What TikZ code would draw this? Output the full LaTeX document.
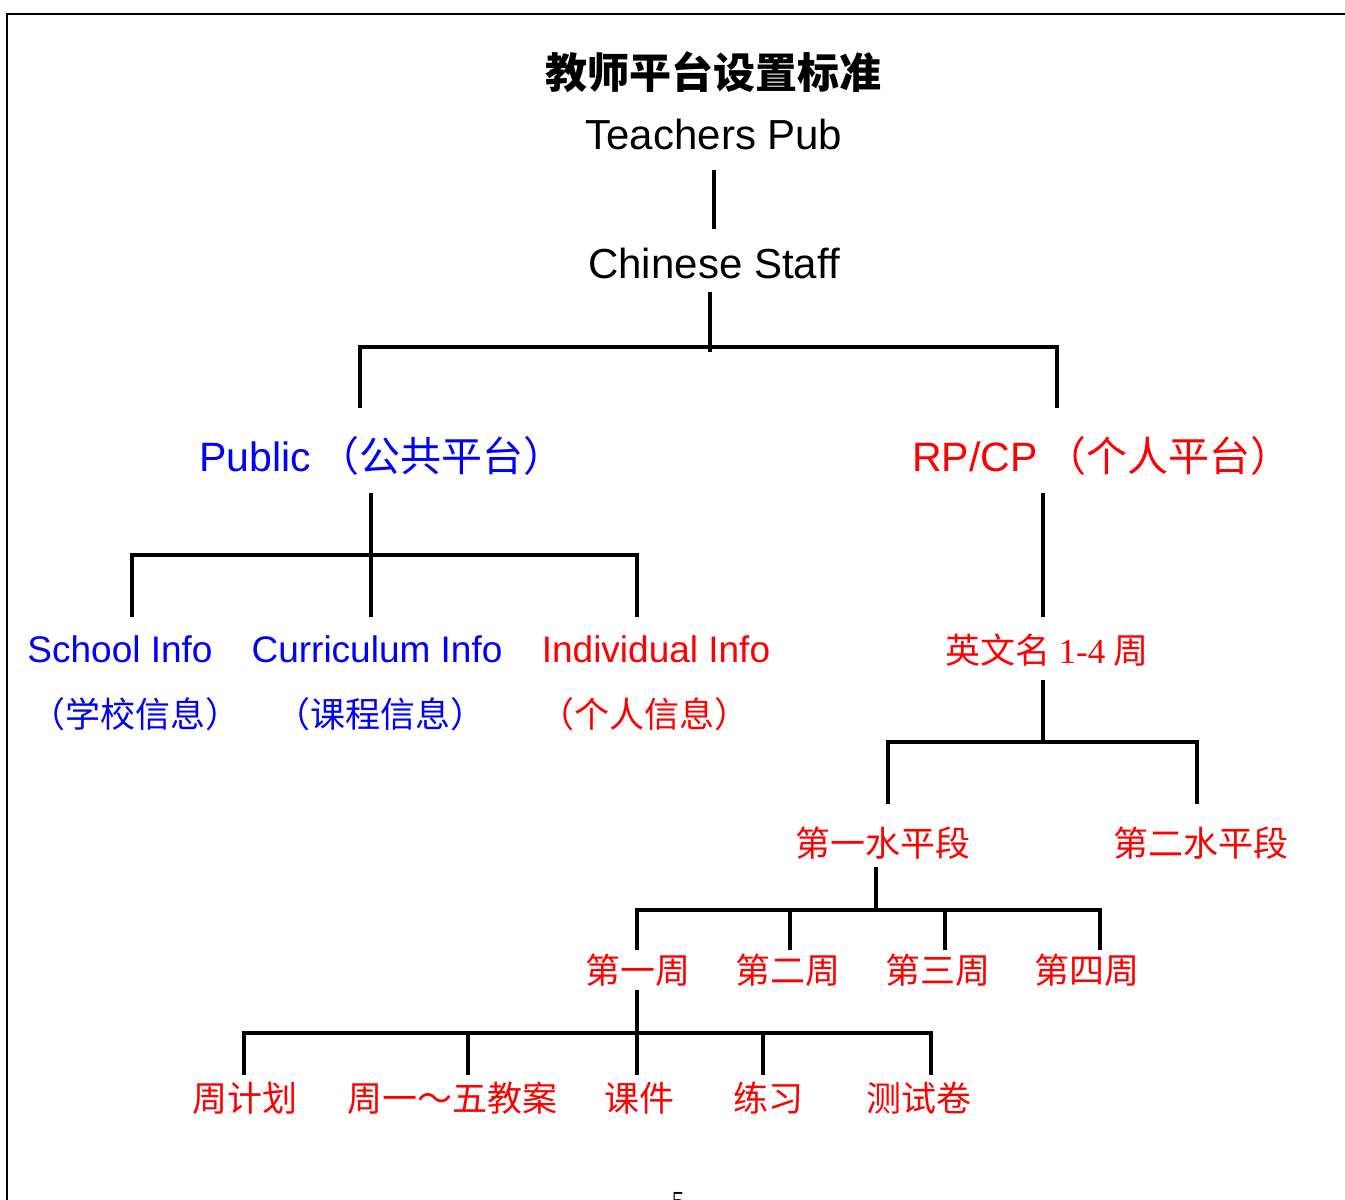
\documentclass[tikz,border=0pt]{standalone}
\usepackage{fontspec}
\setmainfont{Liberation Serif}
\setsansfont{Liberation Sans}
\newfontfamily\cjk{Noto Sans CJK SC}
\usetikzlibrary{calc}
\definecolor{pblue}{RGB}{0,0,255}
\definecolor{pred}{RGB}{255,0,0}
\tikzset{
  tree/.style={line width=2pt},
  lbl/.style={inner sep=0pt, anchor=center},
  big/.style={font=\sffamily\fontsize{21}{25}\selectfont},
  en/.style={font=\sffamily\fontsize{18.5}{22}\selectfont},
  zh/.style={font=\cjk\fontsize{17.5}{21}\selectfont},
}
\begin{document}
\begin{tikzpicture}[x=0.5pt,y=-0.5pt]
\useasboundingbox (0,0) rectangle (1345,1200);
% page frame
\draw[line width=1pt] (7,1200) -- (7,14) -- (1345,14);

% texts
\node[lbl,font=\cjk\bfseries\fontsize{21}{25}\selectfont] (title) at (713,72) {教师平台设置标准};
\node[lbl,big] (tp) at (714,134) {Teachers Pub};
\node[lbl,big] (cs) at (714,263) {Chinese Staff};
\node[lbl,text=pblue] (pub) at (382,456) {{\sffamily\fontsize{20.5}{24}\selectfont Public}\hspace{4pt}{\cjk\fontsize{20.5}{24}\selectfont （公共平台）}};
\node[lbl,text=pred] (rp) at (1102,456) {{\sffamily\fontsize{20.5}{24}\selectfont RP/CP}\hspace{4pt}{\cjk\fontsize{20.5}{24}\selectfont （个人平台）}};

\node[lbl,en,text=pblue] (si) at (120,649) {School Info};
\node[lbl,en,text=pblue] (ci) at (377,649) {Curriculum Info};
\node[lbl,en,text=pred] (ii) at (656,649) {Individual Info};
\node[lbl,zh,text=pblue] (si2) at (136,714) {（学校信息）};
\node[lbl,zh,text=pblue] (ci2) at (380,714) {（课程信息）};
\node[lbl,zh,text=pred] (ii2) at (644,714) {（个人信息）};

\node[lbl,zh,text=pred] (en) at (1047,650) {英文名 {\rmfamily 1-4} 周};
\node[lbl,zh,text=pred] (l1) at (883,843) {第一水平段};
\node[lbl,zh,text=pred] (l2) at (1201,843) {第二水平段};

\node[lbl,zh,text=pred] (w1) at (638,970) {第一周};
\node[lbl,zh,text=pred] (w2) at (788,970) {第二周};
\node[lbl,zh,text=pred] (w3) at (938,970) {第三周};
\node[lbl,zh,text=pred] (w4) at (1087,970) {第四周};

\node[lbl,zh,text=pred] (d1) at (245,1098) {周计划};
\node[lbl,zh,text=pred] (d2) at (452,1098) {周一～五教案};
\node[lbl,zh,text=pred] (d3) at (639,1098) {课件};
\node[lbl,zh,text=pred] (d4) at (768,1098) {练习};
\node[lbl,zh,text=pred] (d5) at (919,1098) {测试卷};

\node[lbl,font=\rmfamily\fontsize{13}{15}\selectfont] (pg) at (678,1201) {5};

% connector coordinates
\coordinate (a1) at (714,170);  \coordinate (a2) at (714,229);
\coordinate (b0) at (710,292);  \coordinate (b1) at (710,352);
\coordinate (j1) at (710,347);
\coordinate (pubT) at (360,408); \coordinate (rpT) at (1057,408);

\coordinate (c0) at (371,493);  \coordinate (j2) at (371,555);
\coordinate (siT) at (132,617); \coordinate (ciT) at (371,617); \coordinate (iiT) at (637,617);

\coordinate (r0) at (1043,493); \coordinate (enT) at (1043,617);
\coordinate (e0) at (1043,680); \coordinate (j3) at (1043,742);
\coordinate (l1T) at (888,804); \coordinate (l2T) at (1197,804);

\coordinate (f0) at (876,867);  \coordinate (j4) at (876,910);
\coordinate (w1T) at (637,950); \coordinate (w2T) at (790,950);
\coordinate (w3T) at (945,950); \coordinate (w4T) at (1100,950);

\coordinate (g0) at (637,990);  \coordinate (j5) at (637,1033);
\coordinate (d1T) at (244,1075); \coordinate (d2T) at (468,1075);
\coordinate (d3T) at (637,1075); \coordinate (d4T) at (763,1075);
\coordinate (d5T) at (931,1075);

% connectors
\draw[tree] (a1) -- (a2);
\draw[tree] (b0) -- (b1);
\draw[tree] (pubT) |- (j1) -| (rpT);

\draw[tree] (c0) -- (ciT);
\draw[tree] (siT) |- (j2) -| (iiT);

\draw[tree] (r0) -- (enT);
\draw[tree] (e0) -- (j3);
\draw[tree] (l1T) |- (j3) -| (l2T);

\draw[tree] (f0) -- (j4);
\draw[tree] (w1T) |- (j4) -| (w4T);
\draw[tree] (w2T) -- (w2T |- j4);
\draw[tree] (w3T) -- (w3T |- j4);

\draw[tree] (g0) -- (d3T);
\draw[tree] (d1T) |- (j5) -| (d5T);
\draw[tree] (d2T) -- (d2T |- j5);
\draw[tree] (d4T) -- (d4T |- j5);
\end{tikzpicture}
\end{document}
